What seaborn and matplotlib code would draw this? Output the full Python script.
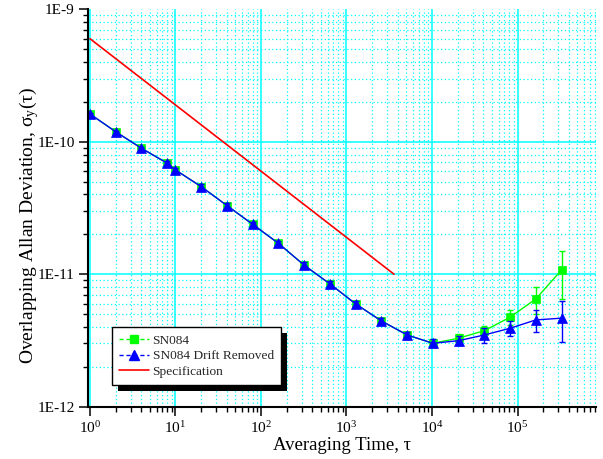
import numpy as np
import matplotlib
matplotlib.use("Agg")
import matplotlib.pyplot as plt
import matplotlib.patheffects as pe
from matplotlib.lines import Line2D
from matplotlib.ticker import LogLocator, NullFormatter
import seaborn as sns

# Averaging times (s)
tau = [1, 2, 4, 8, 10, 20, 40, 80, 160, 320, 640, 1280, 2560, 5120,
       10240, 20480, 40960, 81920, 163840, 327680]

# Overlapping Allan deviation, raw data
adev_raw = [1.62e-10, 1.19e-10, 8.93e-11, 6.89e-11, 6.13e-11, 4.58e-11,
            3.30e-11, 2.38e-11, 1.71e-11, 1.17e-11, 8.45e-12, 5.97e-12,
            4.44e-12, 3.48e-12, 3.01e-12, 3.29e-12, 3.75e-12, 4.74e-12,
            6.51e-12, 1.078e-11]
adev_raw_err = [1.6e-12, 1.8e-12, 1.8e-12, 2.1e-12, 1.8e-12, 1.8e-12,
                1.3e-12, 1.2e-12, 0.85e-12, 0.6e-12, 0.42e-12, 0.3e-12,
                0.22e-12, 0.21e-12, 0.21e-12, 0.26e-12, 0.35e-12, 0.61e-12,
                1.5e-12, 4.3e-12]

# Overlapping Allan deviation, drift removed
adev_dr = [1.62e-10, 1.19e-10, 8.93e-11, 6.89e-11, 6.13e-11, 4.58e-11,
           3.30e-11, 2.38e-11, 1.71e-11, 1.17e-11, 8.45e-12, 5.97e-12,
           4.44e-12, 3.48e-12, 3.01e-12, 3.15e-12, 3.48e-12, 3.91e-12,
           4.52e-12, 4.66e-12]
adev_dr_err = [1.6e-12, 1.8e-12, 1.8e-12, 2.1e-12, 1.8e-12, 1.8e-12,
               1.3e-12, 1.2e-12, 0.85e-12, 0.6e-12, 0.42e-12, 0.3e-12,
               0.22e-12, 0.21e-12, 0.21e-12, 0.25e-12, 0.45e-12, 0.5e-12,
               0.88e-12, 1.6e-12]

# Specification limit
spec_tau = [1, 3600]
spec_adev = [6.0e-10, 1.0e-11]

series_labels = ["SN084", "SN084 Drift Removed", "Specification"]
x_major = [1, 10, 100, 1000, 10000, 100000]
x_tick_labels = [r"$10^{0}$", r"$10^{1}$", r"$10^{2}$", r"$10^{3}$",
                 r"$10^{4}$", r"$10^{5}$"]
y_major = [1e-12, 1e-11, 1e-10, 1e-9]
y_tick_labels = ["1E-12", "1E-11", "1E-10", "1E-9"]

GREEN = "#00ff00"
BLUE = "#0000ff"
RED = "#ff0000"
CYAN = "#00ffff"

sns.set_theme(style="ticks")
plt.rcParams["font.family"] = ["Liberation Serif", "DejaVu Serif"]
plt.rcParams["mathtext.fontset"] = "custom"
plt.rcParams["mathtext.rm"] = "Liberation Serif"
plt.rcParams["mathtext.it"] = "Liberation Serif:italic"
plt.rcParams["mathtext.default"] = "rm"

fig = plt.figure(figsize=(6.03, 4.59), dpi=100)
ax = fig.add_axes([88 / 603, 1 - 406.7 / 459, 508 / 603, 397.4 / 459])
ax.set_xscale("log")
ax.set_yscale("log")
ax.set_xlim(0.948, 8.28e5)
ax.set_ylim(1e-12, 1e-9)

# grid: solid cyan decades, dotted cyan sub-decades
for d in range(0, 6):
    ax.axvline(10.0 ** d, color=CYAN, lw=1.1, zorder=0.5)
    for m in range(2, 10):
        v = m * 10.0 ** d
        if v < 8.28e5:
            ax.axvline(v, color=CYAN, lw=0.9, ls=(0, (1, 2)), zorder=0.5)
for d in range(-12, -9):
    if d > -12:
        ax.axhline(10.0 ** d, color=CYAN, lw=1.1, zorder=0.5)
    for m in range(2, 10):
        ax.axhline(m * 10.0 ** d, color=CYAN, lw=0.9, ls=(0, (1, 2)), zorder=0.5)

# raw data
ax.errorbar(tau, adev_raw, yerr=adev_raw_err, fmt="none", ecolor=GREEN,
            elinewidth=1, capsize=2.5, capthick=1, zorder=2)
sns.lineplot(x=tau, y=adev_raw, ax=ax, color=GREEN, lw=1, marker="s",
             markersize=6, markeredgecolor=GREEN, markeredgewidth=0.5,
             sort=False, estimator=None, zorder=3)

# drift removed
ax.errorbar(tau, adev_dr, yerr=adev_dr_err, fmt="none", ecolor=BLUE,
            elinewidth=1, capsize=2.5, capthick=1, zorder=4)
sns.lineplot(x=tau, y=adev_dr, ax=ax, color=BLUE, lw=1, marker="^",
             markersize=7.5, markeredgecolor=BLUE, markeredgewidth=0.5,
             sort=False, estimator=None, zorder=5)

# specification
sns.lineplot(x=spec_tau, y=spec_adev, ax=ax, color=RED, lw=1.2,
             sort=False, estimator=None, zorder=3)

# axes styling
sns.despine(ax=ax)
for s in ("left", "bottom"):
    ax.spines[s].set_linewidth(1.5)
    ax.spines[s].set_color("black")
    ax.spines[s].set_zorder(6)

ax.set_xticks(x_major, x_tick_labels)
ax.set_yticks(y_major, y_tick_labels)
ax.xaxis.set_minor_locator(LogLocator(base=10, subs=np.arange(2, 10), numticks=100))
ax.yaxis.set_minor_locator(LogLocator(base=10, subs=np.arange(2, 10), numticks=100))
ax.xaxis.set_minor_formatter(NullFormatter())
ax.yaxis.set_minor_formatter(NullFormatter())
ax.tick_params(which="major", direction="out", length=6.5, width=1.1,
               color="black", labelsize=11, labelcolor="black", pad=3)
ax.tick_params(which="minor", direction="out", length=3.5, width=1.0,
               color="black")
ax.grid(False)

ax.set_xlabel("Averaging Time, τ", fontsize=13.5, color="black", labelpad=1)
ax.set_ylabel(r"Overlapping Allan Deviation, $\sigma_{y}(\tau)$",
              fontsize=14, color="black")
ax.yaxis.set_label_coords(-0.093, 0.456)

# legend with dashed handles around the markers
handles = [
    Line2D([], [], color=GREEN, lw=1, ls=(0, (3, 2)), marker="s",
           markersize=6, markeredgecolor=GREEN),
    Line2D([], [], color=BLUE, lw=1, ls=(0, (3, 2)), marker="^",
           markersize=7.5, markeredgecolor=BLUE),
    Line2D([], [], color=RED, lw=1.2),
]
leg = ax.legend(handles, series_labels, loc="upper left",
                bbox_to_anchor=(0.047, 0.2006), borderaxespad=0,
                fontsize=9.6, frameon=True, fancybox=False, framealpha=1,
                edgecolor="black", handlelength=2.2, handletextpad=0.3,
                labelspacing=0.25, borderpad=0.55)
leg.get_frame().set_linewidth(1)
leg.get_frame().set_path_effects(
    [pe.withSimplePatchShadow(offset=(4.3, -4.3), shadow_rgbFace="black", alpha=1.0)])
leg.set_zorder(10)

fig.savefig("out.png", dpi=100, facecolor="white")
